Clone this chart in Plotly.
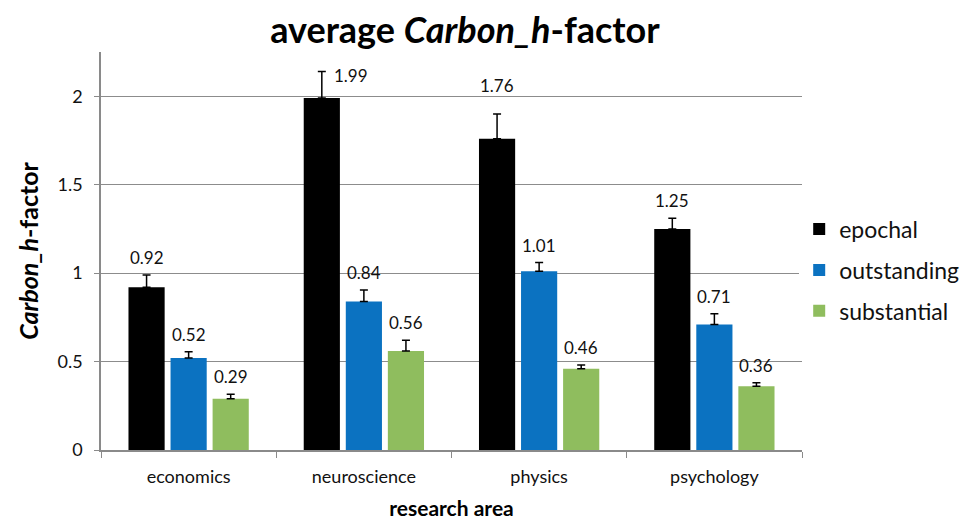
import plotly.graph_objects as go

categories = ["economics", "neuroscience", "physics", "psychology"]
series_names = ["epochal", "outstanding", "substantial"]
epochal = [0.92, 1.99, 1.76, 1.25]
outstanding = [0.52, 0.84, 1.01, 0.71]
substantial = [0.29, 0.56, 0.46, 0.36]
epochal_err = [0.07, 0.15, 0.14, 0.06]
outstanding_err = [0.035, 0.065, 0.05, 0.06]
substantial_err = [0.025, 0.06, 0.02, 0.02]
y_ticks = [0, 0.5, 1, 1.5, 2]
y_tick_labels = ["0", "0.5", "1", "1.5", "2"]

colors = ["#000000", "#0b72c1", "#8fbd5e"]
values = [epochal, outstanding, substantial]
errors = [epochal_err, outstanding_err, substantial_err]

FONT = "Lato, Carlito, Calibri, sans-serif"

fig = go.Figure()
for name, vals, errs, col in zip(series_names, values, errors, colors):
    fig.add_trace(go.Bar(
        name=name, legendgroup=name, x=categories, y=vals,
        marker=dict(color=col, line=dict(width=0)),
        error_y=dict(type="data", array=errs, arrayminus=[0] * len(errs), symmetric=False,
                     color="black", thickness=1.5, width=4),
    ))

# data labels above error bars
offsets_px = [-42, 0, 42]
annotations = []
for si, (vals, errs) in enumerate(zip(values, errors)):
    for ci, cat in enumerate(categories):
        xs = offsets_px[si]
        ys = 5
        xanchor = "center"
        yanchor = "bottom"
        if si == 0 and ci == 1:
            xs = offsets_px[si] + 10
            xanchor = "left"
            yanchor = "middle"
            ys = -4
        elif si == 0 and ci == 2:
            ys = 16
        annotations.append(dict(
            x=cat, y=vals[ci] + errs[ci], xref="x", yref="y", text=f"{vals[ci]:.2f}",
            showarrow=False, xshift=xs, yshift=ys, xanchor=xanchor, yanchor=yanchor,
            font=dict(family=FONT, size=17, color="#111111"),
        ))

fig.update_layout(
    width=962, height=516,
    paper_bgcolor="white", plot_bgcolor="white",
    barmode="group", bargap=0.28, bargroupgap=0.14,
    margin=dict(l=93, r=168, t=44, b=74, autoexpand=False),
    title=dict(text="<b>average <i>Carbon_h</i>-factor</b>", x=0.475, xanchor="center",
               y=0.957, yanchor="middle", font=dict(family=FONT, size=36, color="black")),
    font=dict(family=FONT, color="#111111"),
    legend=dict(x=0.996, y=0.452, xanchor="left", yanchor="middle",
                font=dict(family=FONT, size=23, color="#111111"),
                tracegroupgap=8, itemwidth=30),
    annotations=annotations,
    showlegend=True,
)
fig.update_xaxes(
    title=dict(text="<b>research area</b>", font=dict(family=FONT, size=21, color="black"), standoff=15),
    tickfont=dict(family=FONT, size=18, color="#111111"),
    ticklabelstandoff=10,
    showline=True, linecolor="#8a8a8a", linewidth=1.5,
    ticks="outside", tickson="boundaries", ticklen=6, tickcolor="#8a8a8a",
    showgrid=False,
)
fig.update_yaxes(
    title=dict(text="<b><i>Carbon_h</i>-factor</b>", font=dict(family=FONT, size=25, color="black"), standoff=12),
    range=[0, 2.25], tickvals=y_ticks, ticktext=y_tick_labels,
    tickfont=dict(family=FONT, size=18, color="#111111"),
    ticklabelstandoff=8,
    showline=True, linecolor="#8a8a8a", linewidth=1.5,
    showgrid=True, gridcolor="#8c8c8c", gridwidth=1.2,
    zeroline=False, ticks="outside", ticklen=5, tickcolor="#8a8a8a",
)

fig.write_html("out.html")
